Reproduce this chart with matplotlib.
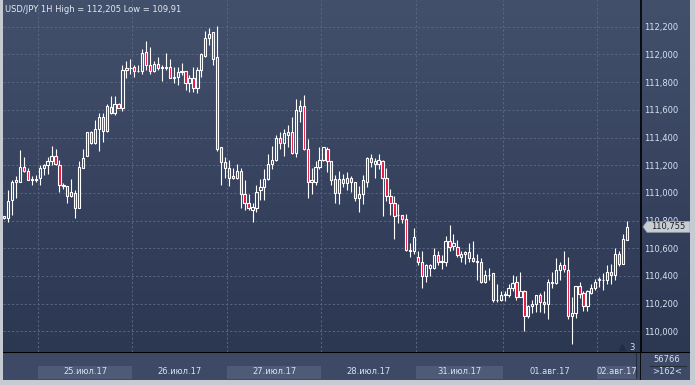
import numpy as np
import matplotlib
matplotlib.use("Agg")
import matplotlib.pyplot as plt
from matplotlib.patches import Rectangle, Polygon

# --- USD/JPY 1H candles (open, high, low, close) ---
opens = [110.82, 110.82, 110.95, 111.08, 111.08, 111.19, 111.16, 111.09, 111.10, 111.11,
         111.18, 111.20, 111.23, 111.27, 111.20, 111.06, 111.05, 110.98, 111.00, 110.89,
         111.18, 111.27, 111.44, 111.36, 111.46, 111.55, 111.45, 111.62, 111.58, 111.64,
         111.61, 111.89, 111.90, 111.91, 111.88, 111.88, 112.02, 111.92, 111.88, 111.93,
         111.90, 111.91, 111.91, 111.83, 111.84, 111.87, 111.88, 111.79, 111.83, 111.76,
         111.89, 111.99, 112.12, 112.16, 111.98, 111.33, 111.22, 111.18, 111.11, 111.11,
         111.16, 110.99, 110.93, 110.88, 110.89, 111.02, 111.04, 111.10, 111.21, 111.24,
         111.40, 111.36, 111.42, 111.44, 111.29, 111.59, 111.63, 111.32, 111.08, 111.08,
         111.19, 111.24, 111.32, 111.23, 111.10, 111.00, 111.10, 111.07, 111.11, 111.08,
         110.96, 110.99, 111.08, 111.25, 111.21, 111.21, 111.23, 111.11, 110.98, 110.93,
         110.84, 110.84, 110.81, 110.59, 110.58, 110.54, 110.50, 110.40, 110.46, 110.46,
         110.55, 110.50, 110.50, 110.65, 110.62, 110.61, 110.54, 110.56, 110.57, 110.53,
         110.51, 110.50, 110.36, 110.41, 110.42, 110.23, 110.23, 110.26, 110.26, 110.31,
         110.36, 110.25, 110.29, 110.11, 110.18, 110.20, 110.26, 110.21, 110.20, 110.35,
         110.35, 110.44, 110.48, 110.44, 110.11, 110.13, 110.33, 110.28, 110.18, 110.28,
         110.31, 110.37, 110.37, 110.37, 110.43, 110.41, 110.56, 110.49, 110.66]
highs = [110.83, 111.02, 111.09, 111.12, 111.31, 111.26, 111.18, 111.12, 111.13, 111.20,
         111.21, 111.26, 111.34, 111.32, 111.24, 111.07, 111.05, 111.10, 111.02, 111.23,
         111.32, 111.44, 111.45, 111.53, 111.58, 111.58, 111.64, 111.70, 111.70, 111.65,
         111.92, 111.95, 111.97, 111.92, 111.92, 112.04, 112.10, 112.05, 111.95, 111.98,
         111.92, 112.01, 111.97, 111.91, 111.91, 111.94, 111.88, 111.85, 111.91, 111.91,
         112.01, 112.17, 112.19, 112.16, 112.205, 111.33, 111.26, 111.24, 111.18, 111.21,
         111.18, 111.09, 110.99, 110.93, 111.06, 111.10, 111.17, 111.28, 111.34, 111.42,
         111.44, 111.46, 111.49, 111.55, 111.68, 111.67, 111.71, 111.39, 111.18, 111.23,
         111.33, 111.33, 111.33, 111.23, 111.13, 111.16, 111.14, 111.15, 111.12, 111.08,
         111.05, 111.13, 111.26, 111.28, 111.25, 111.28, 111.24, 111.18, 111.03, 110.98,
         110.92, 110.84, 110.85, 110.64, 110.75, 110.58, 110.58, 110.49, 110.49, 110.60,
         110.58, 110.55, 110.69, 110.77, 110.70, 110.66, 110.58, 110.58, 110.64, 110.65,
         110.56, 110.53, 110.44, 110.46, 110.42, 110.34, 110.29, 110.29, 110.34, 110.41,
         110.40, 110.43, 110.30, 110.19, 110.23, 110.26, 110.28, 110.29, 110.38, 110.43,
         110.53, 110.50, 110.58, 110.54, 110.25, 110.33, 110.36, 110.29, 110.30, 110.34,
         110.38, 110.39, 110.42, 110.48, 110.49, 110.60, 110.58, 110.70, 110.80]
lows = [110.81, 110.79, 110.84, 110.96, 111.08, 111.15, 111.09, 111.06, 111.08, 111.06,
        111.13, 111.14, 111.20, 111.20, 111.01, 111.03, 110.93, 110.97, 110.82, 110.89,
        111.18, 111.27, 111.35, 111.35, 111.30, 111.37, 111.44, 111.57, 111.56, 111.61,
        111.59, 111.83, 111.86, 111.84, 111.87, 111.86, 111.89, 111.86, 111.87, 111.89,
        111.81, 111.89, 111.83, 111.79, 111.78, 111.85, 111.74, 111.73, 111.73, 111.72,
        111.84, 111.98, 112.07, 111.92, 111.30, 111.06, 111.11, 111.05, 111.10, 111.10,
        110.89, 110.88, 110.88, 110.79, 110.86, 110.95, 110.95, 111.09, 111.17, 111.23,
        111.32, 111.27, 111.33, 111.28, 111.26, 111.51, 111.31, 110.96, 110.99, 111.06,
        111.17, 111.23, 111.15, 111.06, 110.93, 110.92, 111.04, 111.02, 111.01, 110.94,
        110.86, 110.92, 111.04, 111.19, 111.11, 111.17, 110.83, 110.94, 110.84, 110.67,
        110.78, 110.78, 110.58, 110.54, 110.56, 110.48, 110.31, 110.36, 110.40, 110.45,
        110.48, 110.45, 110.47, 110.58, 110.59, 110.54, 110.50, 110.49, 110.50, 110.50,
        110.37, 110.35, 110.35, 110.37, 110.21, 110.21, 110.22, 110.22, 110.25, 110.29,
        110.23, 110.25, 110.00, 110.10, 110.13, 110.14, 110.14, 110.13, 110.09, 110.31,
        110.34, 110.37, 110.43, 110.09, 109.91, 110.10, 110.24, 110.15, 110.15, 110.27,
        110.30, 110.32, 110.30, 110.34, 110.34, 110.37, 110.47, 110.49, 110.66]
closes = [110.83, 110.94, 111.08, 111.09, 111.19, 111.16, 111.09, 111.10, 111.09, 111.18,
          111.20, 111.23, 111.27, 111.21, 111.06, 111.05, 110.98, 111.01, 110.89, 111.19,
          111.25, 111.44, 111.36, 111.46, 111.55, 111.45, 111.63, 111.58, 111.64, 111.61,
          111.89, 111.90, 111.90, 111.88, 111.88, 112.01, 111.92, 111.88, 111.93, 111.90,
          111.91, 111.90, 111.83, 111.84, 111.87, 111.88, 111.79, 111.83, 111.76, 111.89,
          112.00, 112.12, 112.15, 111.97, 111.32, 111.22, 111.18, 111.11, 111.12, 111.16,
          110.99, 110.93, 110.89, 110.90, 111.01, 111.04, 111.10, 111.21, 111.24, 111.40,
          111.36, 111.43, 111.44, 111.29, 111.60, 111.63, 111.32, 111.08, 111.09, 111.19,
          111.24, 111.33, 111.23, 111.09, 111.00, 111.10, 111.07, 111.11, 111.08, 110.96,
          110.99, 111.09, 111.25, 111.22, 111.23, 111.24, 111.11, 110.98, 110.93, 110.83,
          110.84, 110.81, 110.59, 110.58, 110.68, 110.50, 110.40, 110.48, 110.48, 110.55,
          110.50, 110.51, 110.65, 110.61, 110.64, 110.55, 110.56, 110.57, 110.53, 110.51,
          110.50, 110.36, 110.41, 110.41, 110.23, 110.23, 110.26, 110.27, 110.31, 110.35,
          110.25, 110.29, 110.11, 110.18, 110.20, 110.26, 110.21, 110.20, 110.36, 110.36,
          110.44, 110.48, 110.45, 110.11, 110.13, 110.33, 110.27, 110.18, 110.29, 110.31,
          110.36, 110.38, 110.37, 110.43, 110.41, 110.56, 110.49, 110.67, 110.755]

# first candle of each day and its label
day_starts = [9, 33, 57, 81, 105, 127, 151]
day_labels = ['25.июл.17', '26.июл.17', '27.июл.17', '28.июл.17',
              '31.июл.17', '01.авг.17', '02.авг.17']
price_ticks = [110.0, 110.2, 110.4, 110.6, 110.8, 111.0, 111.2, 111.4, 111.6, 111.8, 112.0, 112.2]
title = 'USD/JPY 1H High = 112,205 Low = 109,91'
last_price = 110.755
volume_text = '56766'
bars_text = '>162<'

W, H = 695, 385
TXT = '#d6e2f2'
RED = '#e8103c'
FS = 6.0
plt.rcParams['font.family'] = 'DejaVu Sans'

fig = plt.figure(figsize=(W / 100, H / 100), dpi=100, facecolor='#c5cad3')


def px_axes(x0, y0, x1, y1):
    # axes from pixel box (top-left origin)
    return fig.add_axes([x0 / W, 1 - y1 / H, (x1 - x0) / W, (y1 - y0) / H])


def bare(a):
    a.set_xticks([])
    a.set_yticks([])
    for s in a.spines.values():
        s.set_visible(False)


# gradient background of chart + price scale
bg = px_axes(3, 0, 690, 352)
grad = np.linspace(0, 1, 256).reshape(-1, 1)
top = np.array([0x43, 0x50, 0x6c]) / 255
bot = np.array([0x2c, 0x37, 0x52]) / 255
img = top + (bot - top) * grad[:, :, None]
bg.imshow(img, aspect='auto', extent=[0, 1, 0, 1])
bg.set_xlim(0, 1)
bg.set_ylim(0, 1)
bg.axis('off')

n = len(opens)
xs = np.arange(n)
ylo, yhi = 109.851, 112.393
xlo, xhi = -0.33, 161.6

ax = px_axes(3, 0, 641, 352)
ax.patch.set_alpha(0)
ax.set_xlim(xlo, xhi)
ax.set_ylim(ylo, yhi)

# grid
for p in price_ticks:
    ax.axhline(p, color='#5a6782', lw=0.7, dashes=(2.2, 2.2), zorder=1)
for d in day_starts:
    ax.axvline(d - 0.5, color='#5a6782', lw=0.7, dashes=(2.2, 2.2), zorder=1)

# candles
o = np.array(opens)
c = np.array(closes)
h = np.array(highs)
l = np.array(lows)
btop = np.maximum(o, c)
bbot = np.minimum(o, c)
ax.vlines(xs, btop, h, color='white', lw=0.8, zorder=3)
ax.vlines(xs, l, bbot, color='white', lw=0.8, zorder=3)
faces = [RED if cc < oo else 'none' for oo, cc in zip(o, c)]
ax.bar(xs, btop - bbot, bottom=bbot, width=0.58, color=faces,
       edgecolor='white', linewidth=0.8, zorder=4)

# price scale on the right
ax.yaxis.tick_right()
ax.set_yticks(price_ticks)
ax.set_yticklabels(['{:.3f}'.format(p).replace('.', ',') for p in price_ticks],
                   color=TXT, fontsize=FS)
ax.tick_params(axis='y', length=0, pad=2.5)
ax.set_xticks([])
for s in ax.spines.values():
    s.set_visible(False)
ax.spines['right'].set_visible(True)
ax.spines['right'].set_color('black')
ax.spines['right'].set_linewidth(1.2)

fig.text(5 / W, 1 - 9 / H, title, color='#e4e9f2', fontsize=FS, va='center', ha='left')

# last price marker
mk = px_axes(641, 0, 690, 352)
mk.patch.set_alpha(0)
mk.set_xlim(0, 49)
mk.set_ylim(ylo, yhi)
mk.axis('off')
dy = 5.5 * (yhi - ylo) / 352
mk.add_patch(Polygon([[2, last_price], [6, last_price + dy], [49, last_price + dy],
                      [49, last_price - dy], [6, last_price - dy]],
                     closed=True, facecolor='#c8ccd3', edgecolor='#9aa0aa', lw=0.5, zorder=5))
mk.text(27, last_price, '{:.3f}'.format(last_price).replace('.', ','), color='#1c1f26',
        fontsize=FS, ha='center', va='center', zorder=6)

# "3" marker at bottom right of chart
ax.plot([xhi - 4.8], [ylo + 0.035], marker='^', color='#232c40', ms=4, zorder=5)
ax.text(xhi - 2.2, ylo + 0.035, '3', color=TXT, fontsize=FS, ha='center', va='center', zorder=5)

# time bar
tb = px_axes(3, 352, 641, 380)
tb.set_facecolor('#3d4965')
tb.set_xlim(xlo, xhi)
tb.set_ylim(0, 28)
bare(tb)
bounds = day_starts + [xhi + 0.5]
for k, lab in enumerate(day_labels):
    x0 = bounds[k] - 0.5
    x1 = min(bounds[k + 1] - 0.5, xhi - 1.3)
    if k % 2 == 0:
        tb.add_patch(Rectangle((x0, 1), x1 - x0, 13, facecolor='#4e5a76', edgecolor='none'))
    tb.text((x0 + x1) / 2, 8, lab, color=TXT, fontsize=FS, ha='center', va='center')
tb.axvline(xhi - 1.3, ymin=0.1, ymax=0.95, color='#262d3c', lw=0.8)
tb.axhline(28, color='black', lw=1.5)
tb.axvline(xhi, color='black', lw=1.2)

rb = px_axes(641, 352, 690, 380)
rb.set_facecolor('#3d4965')
rb.set_xlim(0, 49)
rb.set_ylim(0, 28)
bare(rb)
rb.axhline(28, color='black', lw=1.5)
rb.text(26, 20, volume_text, color=TXT, fontsize=FS, ha='center', va='center')
rb.plot([9, 45], [14, 14], color='#252c3a', lw=0.8)
rb.text(26, 8, bars_text, color=TXT, fontsize=FS, ha='center', va='center')

fig.savefig('out.png', dpi=100, facecolor=fig.get_facecolor())
